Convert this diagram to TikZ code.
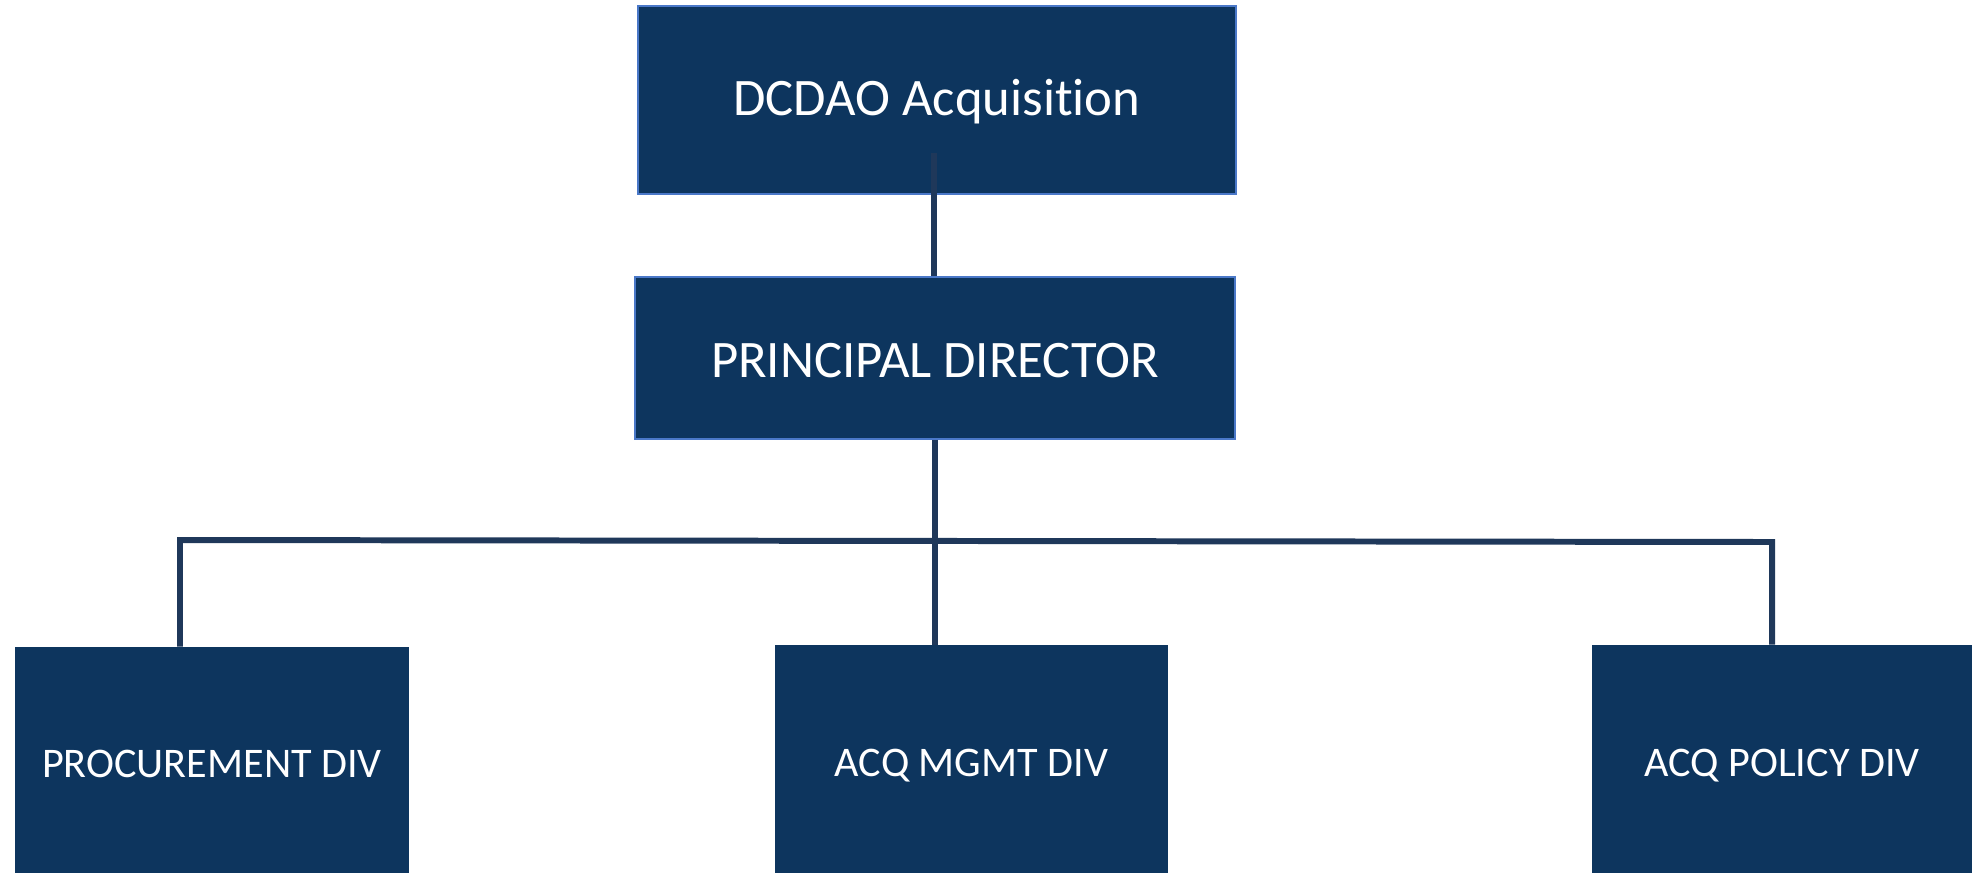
\documentclass[tikz,border=0pt]{standalone}
\usepackage{fontspec}
\setmainfont{Carlito}[Ligatures=CommonOff]
\definecolor{boxblue}{HTML}{0D355E}
\definecolor{edgeblue}{HTML}{4A78C8}
\definecolor{linkblue}{HTML}{1F385A}

\begin{document}
\begin{tikzpicture}[x=0.02cm,y=-0.02cm,
        headbox/.style={fill=boxblue, draw=edgeblue, line width=1pt, text=white, inner sep=0pt, font=\fontsize{30}{36}\selectfont},
        divbox/.style={fill=boxblue, text=white, inner sep=0pt, minimum height=4.56cm, text height=19.5pt, text depth=0pt, font=\fontsize{24}{29}\selectfont},
        link/.style={linkblue, line width=3.4pt}]
        \useasboundingbox (0,0) rectangle (1972,873);
        \node[headbox, minimum width=11.96cm, minimum height=3.76cm, text height=20pt, text depth=2pt] (acq) at (937,100) {DCDAO Acquisition};
        \node[headbox, minimum width=12cm, minimum height=3.24cm, text height=22pt, text depth=0pt] (pd) at (935,358) {PRINCIPAL DIRECTOR};
        \node[divbox, minimum width=7.88cm, minimum height=4.52cm] (proc) at (212,760) {PROCUREMENT DIV};
        \node[divbox, minimum width=7.86cm] (mgmt) at (971.5,759) {ACQ MGMT DIV};
        \node[divbox, minimum width=7.6cm] (policy) at (1782,759) {ACQ POLICY DIV};
        \coordinate (acqstem) at (934,153);
        \coordinate (busleft) at (180,540);
        \coordinate (busright) at (1772,542);
        \draw[link] (acqstem) -- (acqstem |- pd.north);
        \draw[link] (pd.south) -- (pd.south |- mgmt.north);
        \draw[link] (busleft |- proc.north) -- (busleft) -- (busright) -- (busright |- policy.north);
    \end{tikzpicture}
\end{document}
